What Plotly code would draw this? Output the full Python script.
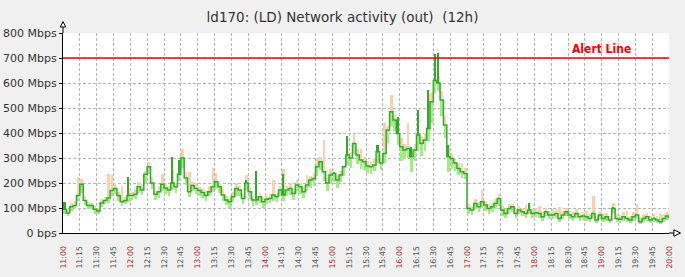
import plotly.graph_objects as go
import pandas as pd

# ---------------- data ----------------
start_time = "2024-01-01 11:00"
step = "3min"

avg_mbps = [
    95, 80, 105, 110, 150, 195, 130, 110, 110, 95,
    88, 120, 130, 140, 170, 178, 150, 125, 130, 150,
    150, 155, 185, 172, 235, 265, 200, 155, 165, 195,
    180, 172, 200, 185, 235, 300, 220, 165, 190, 178,
    170, 162, 150, 165, 185, 205, 185, 152, 132, 125,
    145, 178, 172, 138, 200, 165, 132, 132, 145, 125,
    135, 138, 152, 145, 172, 152, 172, 178, 158, 192,
    185, 165, 192, 212, 218, 265, 285, 245, 200, 232,
    238, 212, 232, 265, 312, 300, 358, 312, 292, 285,
    268, 265, 272, 325, 280, 318, 412, 485, 452, 398,
    345, 332, 338, 305, 332, 392, 358, 372, 418, 525,
    610, 600, 532, 432, 305, 298, 280, 258, 245, 238,
    98, 92, 118, 105, 125, 112, 98, 105, 118, 138,
    92, 78, 98, 105, 78, 92, 85, 78, 92, 78,
    81, 78, 65, 85, 72, 72, 78, 58, 72, 85,
    72, 65, 78, 65, 68, 65, 58, 78, 52, 72,
    58, 65, 52, 98, 58, 55, 65, 58, 52, 65,
    72, 45, 58, 65, 52, 58, 52, 45, 58, 68, 60,
]

max_mbps = [
    110, 95, 120, 128, 225, 215, 150, 125, 122, 108,
    100, 135, 145, 238, 232, 200, 165, 188, 145, 170,
    165, 175, 205, 195, 250, 285, 225, 170, 185, 236,
    195, 190, 255, 200, 255, 335, 245, 245, 205, 200,
    185, 178, 170, 190, 262, 241, 200, 175, 150, 140,
    165, 200, 190, 155, 232, 185, 150, 150, 162, 140,
    150, 155, 212, 160, 190, 258, 190, 200, 175, 212,
    200, 180, 232, 230, 240, 300, 305, 372, 220, 255,
    245, 230, 250, 265, 330, 320, 398, 335, 338, 305,
    290, 285, 300, 345, 300, 440, 430, 552, 475, 420,
    380, 355, 440, 330, 355, 492, 385, 400, 558, 560,
    640, 630, 570, 470, 340, 320, 300, 280, 280, 260,
    115, 110, 135, 125, 172, 130, 115, 120, 135, 158,
    110, 95, 115, 118, 95, 110, 100, 112, 110, 95,
    100, 108, 85, 100, 90, 95, 98, 105, 90, 100,
    88, 85, 95, 82, 85, 90, 75, 148, 70, 90,
    78, 82, 70, 119, 75, 72, 85, 88, 70, 85,
    116, 62, 75, 82, 70, 78, 70, 78, 75, 85, 80,
]

min_mbps = [
    78, 70, 90, 98, 128, 160, 112, 98, 95, 75,
    78, 105, 115, 122, 150, 158, 128, 108, 115, 125,
    132, 138, 160, 152, 195, 238, 175, 132, 140, 168,
    158, 150, 172, 160, 208, 262, 192, 145, 168, 158,
    150, 142, 128, 148, 165, 178, 162, 128, 112, 102,
    125, 148, 150, 115, 172, 138, 108, 112, 122, 102,
    115, 120, 130, 125, 148, 128, 148, 152, 132, 160,
    158, 140, 168, 182, 188, 230, 252, 210, 168, 198,
    205, 182, 205, 228, 272, 262, 318, 278, 258, 252,
    242, 238, 248, 280, 252, 280, 360, 430, 410, 352,
    290, 298, 300, 245, 290, 330, 310, 330, 370, 440,
    560, 570, 470, 380, 245, 258, 250, 232, 222, 218,
    78, 72, 95, 85, 100, 90, 78, 85, 95, 110,
    70, 60, 78, 85, 60, 75, 68, 62, 75, 60,
    65, 62, 50, 68, 55, 58, 62, 45, 58, 68,
    58, 50, 62, 50, 52, 50, 45, 62, 40, 56,
    45, 50, 40, 80, 45, 42, 50, 45, 40, 50,
    58, 35, 45, 50, 40, 45, 40, 35, 45, 52, 48,
]

# short dark-green spikes of the average line (sample index, top value)
spike_index = [0, 19, 32, 34, 54, 57, 65, 80, 84, 93, 99, 103, 105, 108,
               110, 111, 114, 138, 163]
spike_top_mbps = [125, 225, 305, 292, 212, 250, 238, 245, 388, 352, 465, 345, 492, 572,
                  718, 720, 352, 121, 105]

y_tick_vals = [0, 100, 200, 300, 400, 500, 600, 700, 800]
y_tick_text = ["0 bps", "100 Mbps", "200 Mbps", "300 Mbps", "400 Mbps",
               "500 Mbps", "600 Mbps", "700 Mbps", "800 Mbps"]

alert_level = 700
alert_label = "Alert Line"
title_text = "ld170: (LD) Network activity (out)  (12h)"

# ---------------- figure ----------------
times = pd.date_range(start_time, periods=len(avg_mbps), freq=step)
step_ms = pd.Timedelta(step).total_seconds() * 1000

x_ticks = pd.date_range("2024-01-01 11:00", "2024-01-01 20:00", freq="15min")
x_tick_text = []
for t in x_ticks:
    lab = t.strftime("%H:%M")
    if t.minute == 0:
        x_tick_text.append('<span style="fill:#a83232">%s</span>' % lab)
    else:
        x_tick_text.append(lab)

low_part = [a - l for a, l in zip(avg_mbps, min_mbps)]
high_part = [h - a for h, a in zip(max_mbps, avg_mbps)]
spike_times = [times[i] for i in spike_index]
spike_base = [avg_mbps[i] for i in spike_index]
spike_len = [s - b for s, b in zip(spike_top_mbps, spike_base)]

bar_w = step_ms * 0.75
bar_off = step_ms * 0.125

fig = go.Figure()
fig.add_trace(go.Bar(x=times, y=high_part, base=avg_mbps, width=bar_w, offset=bar_off,
                     marker=dict(color="#fdceb0", line=dict(width=0)), hoverinfo="skip"))
fig.add_trace(go.Bar(x=times, y=low_part, base=min_mbps, width=bar_w, offset=bar_off,
                     marker=dict(color="#9cf07c", line=dict(width=0)), hoverinfo="skip"))
fig.add_trace(go.Bar(x=spike_times, y=spike_len, base=spike_base, width=step_ms * 0.5,
                     offset=step_ms * 0.25,
                     marker=dict(color="#33aa2e", line=dict(width=0)), hoverinfo="skip"))
fig.add_trace(go.Scatter(x=times, y=avg_mbps, mode="lines",
                         line=dict(shape="hv", color="#33aa2e", width=1.5)))

grid = dict(showgrid=True, gridcolor="#b8b8b8", gridwidth=1, griddash="3px,2px")

fig.update_layout(
    width=685, height=277,
    margin=dict(l=63, r=16, t=33, b=44, autoexpand=False),
    paper_bgcolor="#f0f0f0", plot_bgcolor="#ffffff",
    showlegend=False, barmode="overlay", bargap=0,
    font=dict(family="DejaVu Sans", color="#333333"),
    title=dict(text=title_text, x=0.5, xref="container", xanchor="center",
               y=1 - 17 / 277, yref="container", yanchor="middle",
               font=dict(family="DejaVu Sans", size=13.5, color="#333333")),
    xaxis=dict(range=[x_ticks[0], x_ticks[-1]], tickmode="array",
               tickvals=x_ticks, ticktext=x_tick_text, tickangle=-90,
               tickfont=dict(size=7.8, color="#555555", family="DejaVu Sans"),
               ticks="", ticklabelstandoff=9, automargin=False,
               showline=True, linecolor="#000000", linewidth=1,
               zeroline=False, **grid),
    yaxis=dict(range=[0, 800], tickmode="array", tickvals=y_tick_vals,
               ticktext=y_tick_text, ticks="outside", ticklen=3,
               tickcolor="#000000", tickfont=dict(size=11, color="#333333"),
               automargin=False,
               showline=True, linecolor="#000000", linewidth=1,
               zeroline=False, **grid),
)

# alert line
fig.add_shape(type="line", xref="paper", x0=0, x1=1, yref="y",
              y0=alert_level, y1=alert_level, line=dict(color="#ff0000", width=1.3))
fig.add_annotation(x=0.888, xref="paper", y=738, yref="y", text="<b>%s</b>" % alert_label,
                   showarrow=False, xanchor="center", yanchor="middle",
                   font=dict(family="Liberation Sans Narrow, DejaVu Sans Condensed, Liberation Sans",
                             size=12, color="#ff0000"))

# axis arrows
fig.add_shape(type="line", xref="paper", yref="paper", x0=0, x1=0, y0=1, y1=1.03,
              line=dict(color="#000000", width=1))
fig.add_shape(type="path", xref="paper", yref="paper",
              path="M 0,1.057 L 0.0045,1.03 L -0.0045,1.03 Z",
              line=dict(color="#000000", width=1), fillcolor="#ffffff")
fig.add_shape(type="line", xref="paper", yref="paper", x0=1, x1=1.008, y0=0, y1=0,
              line=dict(color="#000000", width=1))
fig.add_shape(type="path", xref="paper", yref="paper",
              path="M 1.008,0.016 L 1.019,0 L 1.008,-0.016 Z",
              line=dict(color="#000000", width=1), fillcolor="#ffffff")

fig.write_html("out.html", config={"displayModeBar": False})
